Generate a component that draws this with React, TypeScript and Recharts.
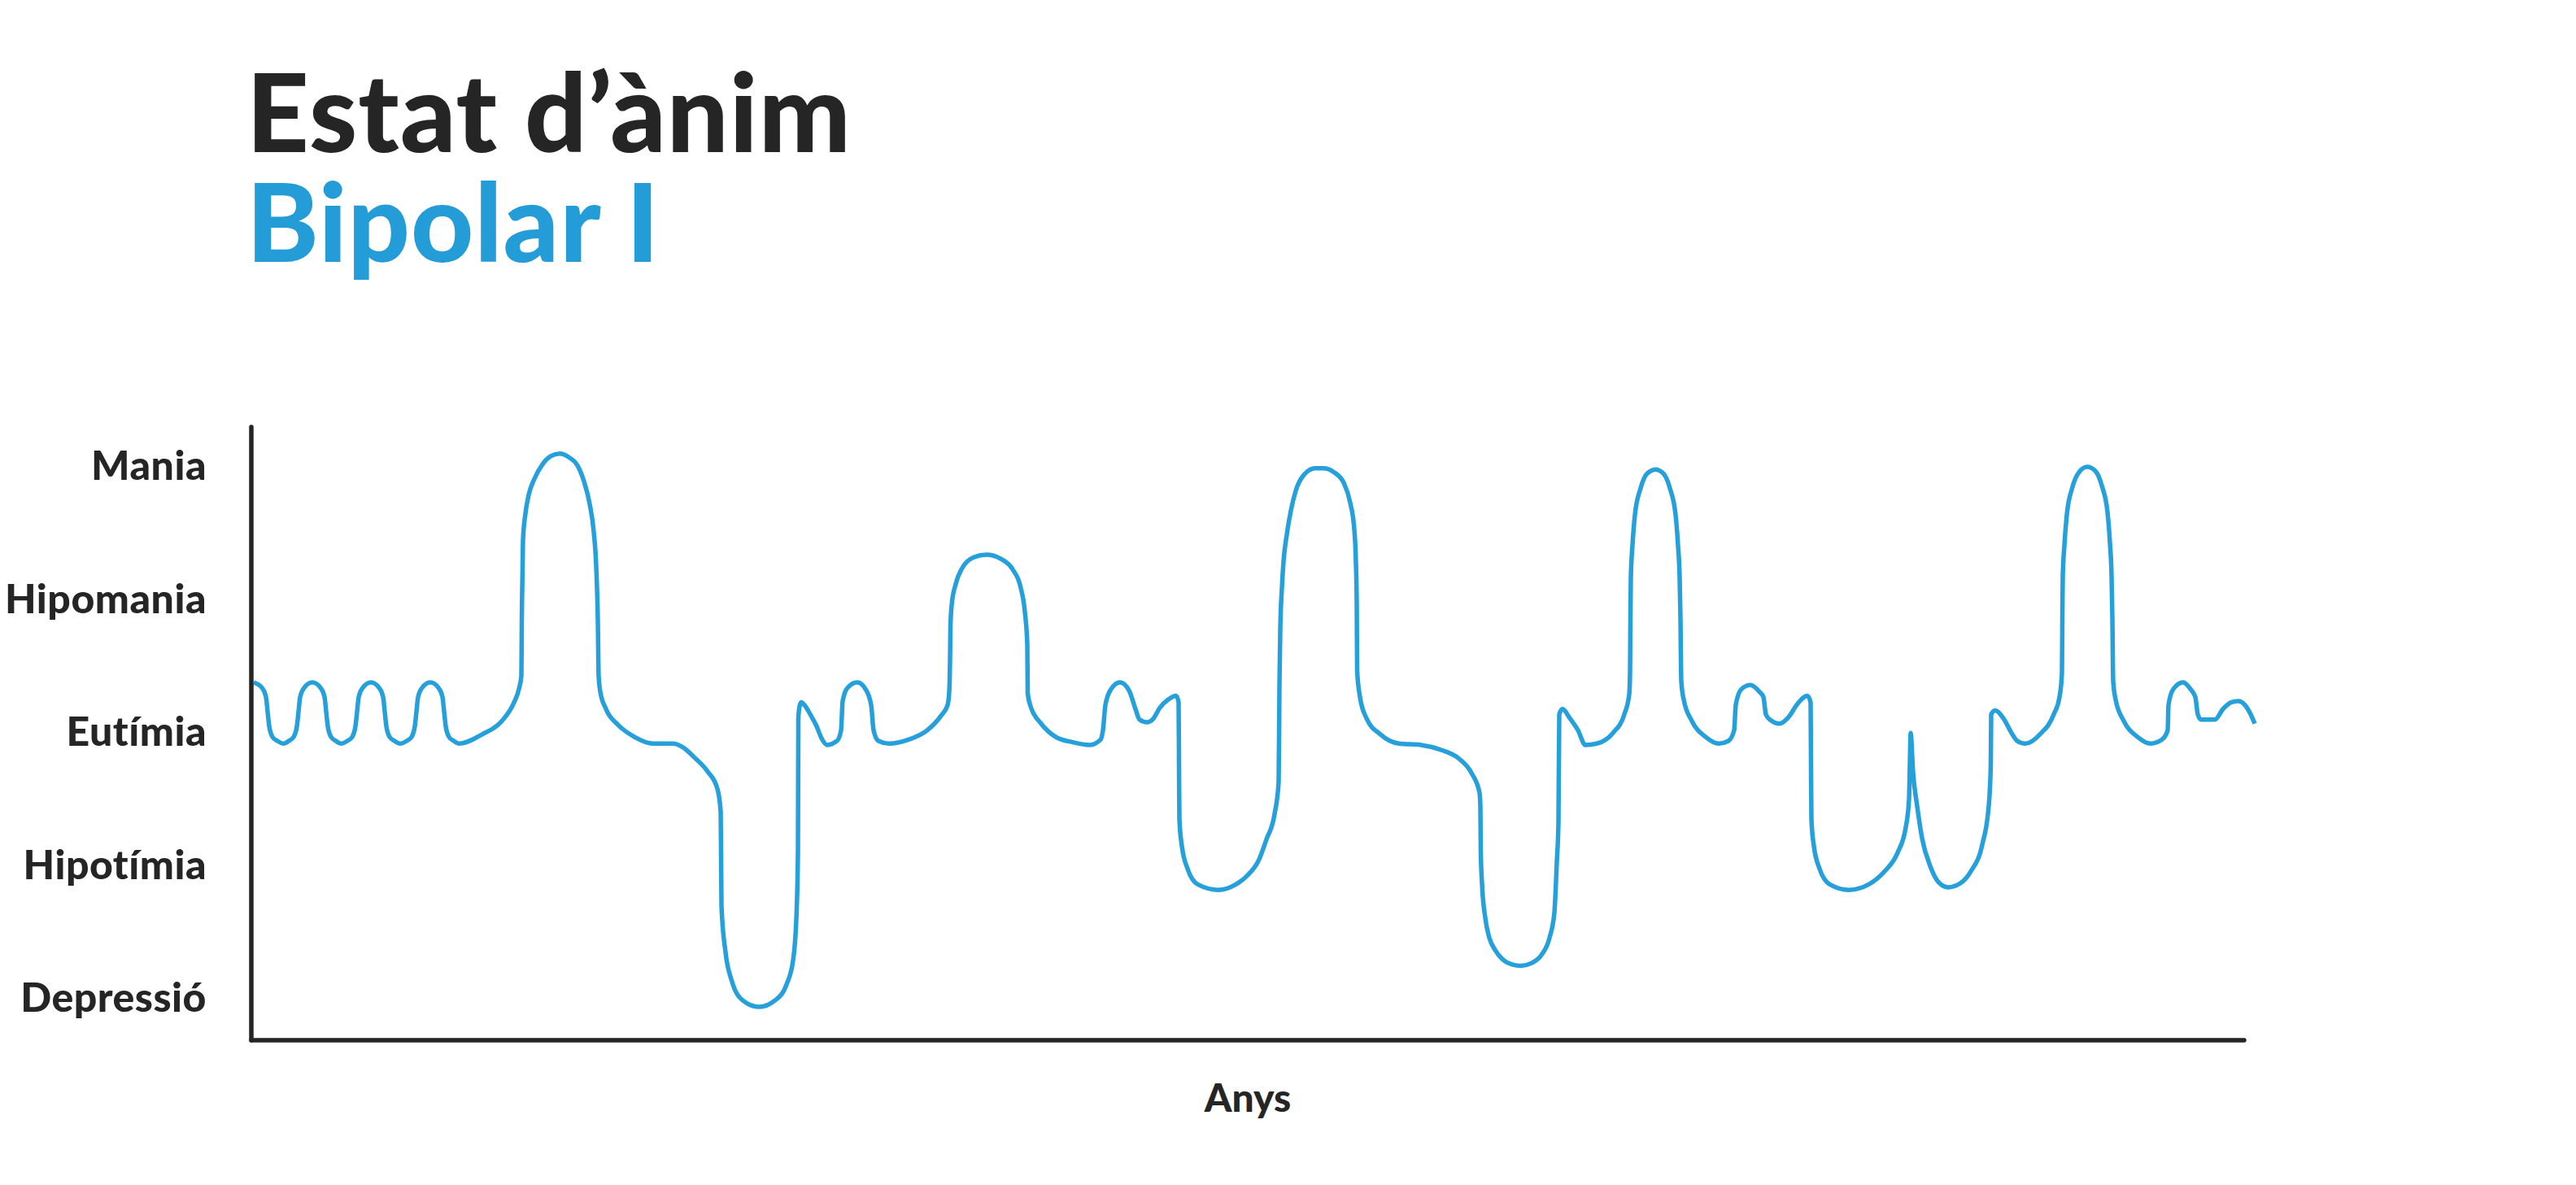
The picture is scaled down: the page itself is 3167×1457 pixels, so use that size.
import { LineChart, Line, XAxis, YAxis, ReferenceLine } from 'recharts';

// mood scale: 0 = Depressió ... 4 = Mania
const levels = ['Depressió', 'Hipotímia', 'Eutímia', 'Hipomania', 'Mania'];
const levelTicks = [0, 1, 2, 3, 4];

// [time, mood] pairs, grouped by episode
const euthymiaStart = [
  [0.3, 2.37], [1.3, 2.33], [1.8, 2.26], [2.0, 2.15], [2.2, 2.04], [2.6, 1.96], [3.2, 1.93], [4.0, 1.91],
  [4.6, 1.93], [5.2, 1.96], [5.6, 2.04], [5.8, 2.15], [6.0, 2.26], [6.5, 2.33], [7.5, 2.37],
  [8.5, 2.33], [9.0, 2.26], [9.2, 2.15], [9.4, 2.04], [9.8, 1.96], [10.4, 1.93], [11.0, 1.91],
  [11.8, 1.93], [12.4, 1.96], [12.8, 2.04], [13.0, 2.15], [13.2, 2.26], [13.7, 2.33], [14.7, 2.37],
  [15.7, 2.33], [16.2, 2.26], [16.4, 2.15], [16.6, 2.04], [17.0, 1.96], [17.6, 1.93], [18.3, 1.91],
  [19.1, 1.93], [19.7, 1.96], [20.1, 2.04], [20.3, 2.15], [20.5, 2.26], [21.0, 2.33], [22.0, 2.37],
  [23.0, 2.33], [23.5, 2.26], [23.7, 2.15], [23.9, 2.04], [24.3, 1.96], [24.9, 1.93], [25.5, 1.91],
];

const mania1 = [
  [28.4, 1.98], [30.8, 2.08], [32.3, 2.22], [32.9, 2.32], [33.2, 2.42], [33.25, 2.83], [33.35, 3.24],
  [33.4, 3.44], [33.7, 3.64], [34.1, 3.78], [34.8, 3.9], [35.8, 4.01], [36.8, 4.07], [37.9, 4.09],
  [39.1, 4.06], [40.1, 4.0], [40.9, 3.88], [41.6, 3.71], [42.1, 3.5], [42.4, 3.24], [42.6, 2.83],
  [42.7, 2.42], [42.9, 2.3], [43.6, 2.17], [45.1, 2.05], [47.1, 1.96], [49.4, 1.91], [51.8, 1.91],
];

const depression1 = [
  [53.1, 1.88], [54.4, 1.81], [56.1, 1.7], [57.3, 1.57], [57.7, 1.4], [57.75, 1.09], [57.8, 0.69],
  [58.3, 0.34], [59.1, 0.12], [60.4, -0.02], [62.4, -0.07], [64.4, -0.02], [65.8, 0.1], [66.6, 0.28],
  [67.0, 0.59], [67.2, 1.09], [67.25, 2.1], [67.4, 2.19], [67.6, 2.22], [68.0, 2.2], [68.8, 2.12],
  [69.5, 2.04], [70.1, 1.95], [70.8, 1.9],
  [72.0, 1.93], [72.5, 2.01], [72.7, 2.23], [73.3, 2.33], [74.5, 2.37], [75.5, 2.32], [76.2, 2.2],
  [76.5, 2.01], [77.1, 1.93], [78.4, 1.91],
];

const hypomania1 = [
  [80.8, 1.94], [83.1, 2.01], [84.8, 2.12], [85.6, 2.2], [85.8, 2.3], [85.9, 2.54], [85.95, 2.79],
  [86.1, 2.95], [86.6, 3.11], [87.4, 3.23], [88.8, 3.31], [90.4, 3.33], [92.1, 3.3], [93.6, 3.22],
  [94.6, 3.08], [95.1, 2.9], [95.4, 2.65], [95.45, 2.29], [95.8, 2.19], [97.1, 2.06], [98.9, 1.96],
  [101.0, 1.92], [103.1, 1.9],
  [104.4, 1.94], [104.7, 2.01], [105.0, 2.2], [105.7, 2.32], [106.8, 2.37], [107.9, 2.31], [108.7, 2.17],
  [109.2, 2.09], [110.1, 2.07], [110.8, 2.09], [111.7, 2.18], [112.7, 2.24], [113.7, 2.27], [114.0, 2.22],
];

const hypothymia1 = [
  [114.05, 1.75], [114.1, 1.34], [114.4, 1.14], [115.1, 0.97], [116.4, 0.85], [118.9, 0.81], [121.0, 0.85],
  [122.3, 0.91], [123.9, 1.04], [124.8, 1.19], [125.8, 1.38], [126.3, 1.62],
];

const mania2 = [
  [126.4, 2.36], [126.5, 2.77], [126.7, 3.08], [126.9, 3.28], [127.3, 3.48], [127.8, 3.66], [128.4, 3.81],
  [129.4, 3.93], [130.8, 3.98], [131.8, 3.98], [133.1, 3.95], [134.3, 3.87], [135.1, 3.72], [135.6, 3.52],
  [135.8, 3.27], [135.9, 2.97], [135.95, 2.46], [136.3, 2.26], [137.1, 2.1], [138.8, 1.98], [141.1, 1.91],
  [143.8, 1.9],
];

const depression2 = [
  [146.4, 1.86], [148.4, 1.8], [150.0, 1.69], [151.0, 1.54], [151.1, 1.44], [151.15, 1.1], [151.3, 0.86],
  [151.7, 0.6], [152.2, 0.45], [152.9, 0.36], [153.8, 0.29], [155.0, 0.25], [156.1, 0.24], [157.4, 0.26],
  [158.6, 0.32], [159.6, 0.45], [160.2, 0.64], [160.5, 1.02], [160.7, 1.32], [160.8, 2.13], [161.2, 2.17],
  [162.1, 2.1], [163.1, 2.01], [164.0, 1.9],
];

const mania3 = [
  [165.4, 1.91], [167.4, 1.99], [168.8, 2.13], [169.4, 2.28], [169.5, 2.44], [169.55, 2.85], [169.6, 3.16],
  [169.8, 3.4], [170.1, 3.63], [170.8, 3.83], [171.6, 3.94], [172.6, 3.97], [173.6, 3.94], [174.4, 3.83],
  [175.1, 3.63], [175.4, 3.4], [175.6, 3.16], [175.7, 2.85], [175.8, 2.38], [176.1, 2.24], [177.1, 2.08],
  [178.8, 1.96], [180.4, 1.91],
  [181.6, 1.93], [182.3, 2.01], [182.5, 2.2], [183.2, 2.32], [184.3, 2.35], [185.4, 2.3], [185.9, 2.26],
  [186.2, 2.13], [186.7, 2.09], [187.9, 2.06], [189.0, 2.11], [190.1, 2.21], [191.3, 2.27], [191.7, 2.22],
];

const hypothymia2 = [
  [191.75, 1.75], [191.8, 1.34], [192.1, 1.14], [192.8, 0.97], [194.1, 0.85], [196.4, 0.81], [198.8, 0.85],
  [200.8, 0.95], [202.4, 1.09], [203.4, 1.28], [203.8, 1.49], [203.9, 1.75], [204.0, 1.99], [204.3, 1.69],
  [204.8, 1.44], [205.4, 1.2], [206.4, 0.99], [207.4, 0.87], [208.6, 0.83], [210.1, 0.86], [211.4, 0.95],
  [212.8, 1.15], [213.6, 1.44], [213.85, 1.75], [213.9, 2.13], [214.4, 2.16], [215.4, 2.1], [216.4, 1.99],
  [217.1, 1.93], [218.1, 1.91],
];

const mania4 = [
  [219.9, 1.98], [221.6, 2.13], [222.3, 2.26], [222.6, 2.44], [222.65, 2.85], [222.7, 3.16], [222.9, 3.4],
  [223.2, 3.63], [223.9, 3.84], [224.7, 3.95], [225.7, 3.99], [226.7, 3.96], [227.5, 3.85], [228.2, 3.65],
  [228.5, 3.42], [228.7, 3.17], [228.8, 2.85], [228.9, 2.38], [229.2, 2.24], [230.2, 2.08], [231.9, 1.96],
  [233.5, 1.91],
];

const euthymiaEnd = [
  [234.9, 1.94], [235.6, 2.01], [235.7, 2.2], [236.3, 2.32], [237.5, 2.37], [238.4, 2.32], [239.0, 2.26],
  [239.3, 2.13], [239.7, 2.09], [241.4, 2.09], [242.4, 2.17], [243.4, 2.22], [244.3, 2.23], [245.1, 2.2],
  [245.8, 2.13], [246.3, 2.06],
];

const data = [
  ...euthymiaStart, ...mania1, ...depression1, ...hypomania1, ...hypothymia1, ...mania2,
  ...depression2, ...mania3, ...hypothymia2, ...mania4, ...euthymiaEnd,
].map(([t, m]) => ({ t, m }));

const yMin = -0.32;
const yMax = 4.29;
const axisEnd = 245;

const INK = '#252525';
const BLUE = '#26a0da';
const FONT = 'Lato, "Open Sans", sans-serif';

const titleStyle = {
  position: 'absolute' as const,
  left: 303,
  margin: 0,
  fontFamily: FONT,
  fontWeight: 900,
  fontSize: 134,
  lineHeight: '134px',
  height: 134,
  letterSpacing: 1,
  whiteSpace: 'nowrap' as const,
};

export default function App() {
  return (
    <div style={{ position: 'absolute', left: 0, top: 0, width: 3167, height: 1457, background: '#fff', overflow: 'hidden' }}>
      <div style={{ ...titleStyle, top: 69, color: INK }}>Estat d’ànim</div>
      <div style={{ ...titleStyle, top: 204, color: '#239cd7' }}>Bipolar I</div>
      <div style={{ position: 'absolute', left: 0, top: 0 }}>
        <LineChart width={3167} height={1457} data={data} margin={{ top: 525, right: 358, bottom: 178, left: 0 }}>
          <XAxis type="number" dataKey="t" domain={[0, 250]} hide />
          <YAxis
            type="number"
            domain={[yMin, yMax]}
            ticks={levelTicks}
            interval={0}
            width={309}
            tickFormatter={(v: number) => levels[v]}
            axisLine={{ stroke: INK, strokeWidth: 5.5, strokeLinecap: 'round' }}
            tickLine={false}
            tickSize={0}
            tickMargin={55}
            tick={{ fill: INK, fontSize: 50, fontWeight: 900, fontFamily: FONT, letterSpacing: 0.5 }}
          />
          <ReferenceLine
            segment={[{ x: 0, y: yMin }, { x: axisEnd, y: yMin }]}
            stroke={INK}
            strokeWidth={5.5}
            strokeLinecap="round"
            label={{ value: 'Anys', position: 'bottom', offset: 54, fill: INK, fontSize: 48, fontWeight: 900, fontFamily: FONT }}
          />
          <Line type="monotone" dataKey="m" stroke={BLUE} strokeWidth={5.5} dot={false} isAnimationActive={false} />
        </LineChart>
      </div>
    </div>
  );
}
